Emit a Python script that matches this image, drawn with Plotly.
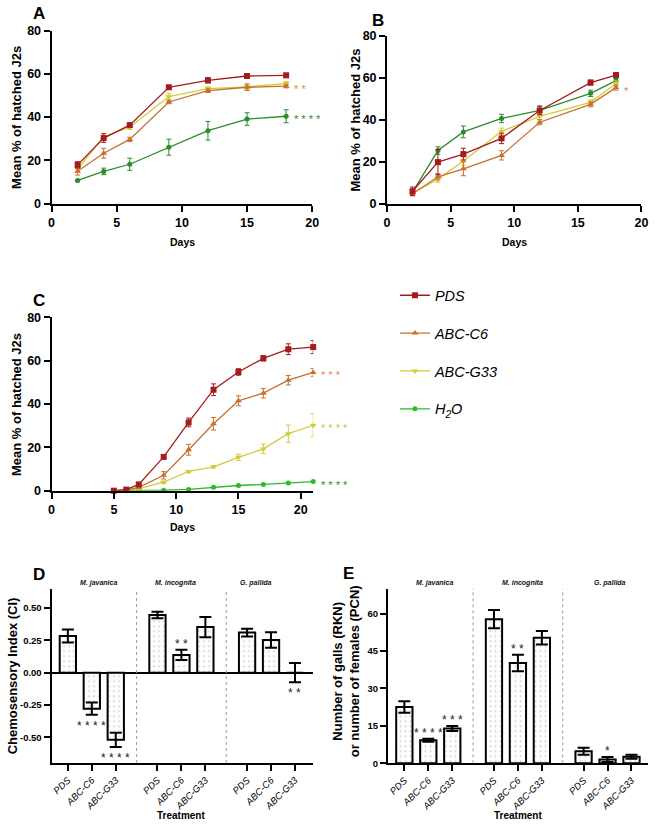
import plotly.graph_objects as go

W, H = 657, 829
FONT = "Liberation Sans, Arial, Helvetica, sans-serif"

# ---------------- data ----------------
series_names = ["PDS", "ABC-C6", "ABC-G33", "H<sub>2</sub>O"]

days_A = [2, 4, 6, 9, 12, 15, 18]
A_PDS = [17.9, 30.3, 36.3, 53.8, 57.0, 59.0, 59.3]
A_PDS_err = [1.5, 2.0, 1.0, 0.7, 1.2, 1.0, 1.0]
A_C6 = [15.0, 23.3, 29.7, 47.0, 52.2, 53.8, 54.3]
A_C6_err = [1.8, 2.3, 1.0, 0.8, 0.8, 1.5, 0.8]
A_G33 = [16.0, 31.0, 35.3, 49.5, 53.2, 54.0, 55.5]
A_G33_err = [1.5, 1.5, 1.0, 1.5, 0.8, 1.3, 1.0]
A_H2O = [10.7, 14.9, 18.2, 26.1, 33.7, 39.1, 40.4]
A_H2O_err = [0.5, 1.5, 2.8, 3.7, 4.3, 2.9, 3.0]
A_sig = ["", "**", "", "****"]

days_B = [2, 4, 6, 9, 12, 16, 18]
B_PDS = [5.9, 19.8, 23.6, 31.1, 44.4, 57.7, 61.3]
B_PDS_err = [2.0, 6.0, 2.8, 2.5, 2.0, 1.2, 0.7]
B_C6 = [4.7, 12.8, 16.6, 23.0, 38.8, 47.3, 55.3]
B_C6_err = [1.0, 1.5, 3.3, 2.2, 1.2, 1.2, 1.2]
B_G33 = [5.0, 11.7, 20.3, 34.5, 41.6, 48.3, 57.3]
B_G33_err = [1.0, 1.5, 2.0, 1.5, 1.5, 1.2, 1.2]
B_H2O = [5.5, 25.3, 34.2, 40.6, 44.5, 52.6, 58.6]
B_H2O_err = [1.0, 1.8, 2.8, 2.0, 2.0, 1.5, 1.0]
B_sig = ["", "*", "", ""]

days_C = [5, 6, 7, 9, 11, 13, 15, 17, 19, 21]
C_PDS = [0.0, 0.5, 2.9, 15.6, 31.5, 46.6, 54.8, 61.1, 65.3, 66.3]
C_PDS_err = [0.0, 0.3, 0.5, 1.0, 2.0, 2.7, 1.5, 1.2, 2.5, 3.0]
C_C6 = [0.0, 0.3, 1.5, 7.1, 18.9, 30.9, 41.5, 45.0, 51.0, 54.6]
C_C6_err = [0.0, 0.2, 0.5, 1.7, 2.5, 2.9, 2.3, 2.2, 2.2, 1.8]
C_G33 = [0.0, 0.2, 1.0, 3.9, 8.9, 11.0, 15.4, 19.3, 26.3, 30.2]
C_G33_err = [0.0, 0.1, 0.3, 0.5, 0.5, 0.5, 1.5, 2.2, 4.0, 5.3]
C_H2O = [0.0, 0.0, 0.0, 0.2, 0.6, 1.6, 2.4, 2.9, 3.6, 4.2]
C_H2O_err = [0.0, 0.0, 0.0, 0.1, 0.1, 0.2, 0.2, 0.2, 0.2, 0.2]
C_sig = ["", "***", "****", "****"]

species = ["M. javanica", "M. incognita", "G. pallida"]
treatments = ["PDS", "ABC-C6", "ABC-G33"]

ci_mean = [0.284, -0.279, -0.520, 0.447, 0.137, 0.353, 0.310, 0.253, 0.000]
ci_err = [0.050, 0.048, 0.055, 0.025, 0.040, 0.078, 0.030, 0.060, 0.075]
ci_sig = ["", "****", "****", "", "**", "", "", "", "**"]
ci_ticks = [-0.5, -0.25, 0.0, 0.25, 0.5]

galls_mean = [22.6, 9.2, 14.0, 57.8, 40.2, 50.3, 4.8, 1.5, 2.6]
galls_err = [2.3, 0.6, 1.0, 3.7, 3.3, 2.7, 1.4, 1.0, 0.8]
galls_sig = ["", "****", "***", "", "**", "", "", "*", ""]
galls_ticks = [0, 15, 30, 45, 60]

# ---------------- styles ----------------
col_line = {"PDS": "#A51C1E", "ABC-C6": "#C8702E", "ABC-G33": "#D2CC3A"}
green_dark = "#2A8C2A"
green_bright = "#2DBA2D"
symbols = ["square", "triangle-up", "triangle-down", "circle"]
msize = [6, 6, 6, 5]
sig_cols_A = ["#A51C1E", "#D98A4A", "#C8C850", green_dark]
sig_cols_C = ["#A51C1E", "#F0824A", "#C8C850", green_dark]


def px_x(p):
    return p / W


def px_y(p):
    return 1 - p / H


fig = go.Figure()

panels = [
    ("x", "y", days_A, [A_PDS, A_C6, A_G33, A_H2O], [A_PDS_err, A_C6_err, A_G33_err, A_H2O_err], green_dark, A_sig, sig_cols_A, False),
    ("x2", "y2", days_B, [B_PDS, B_C6, B_G33, B_H2O], [B_PDS_err, B_C6_err, B_G33_err, B_H2O_err], green_dark, B_sig, sig_cols_A, False),
    ("x3", "y3", days_C, [C_PDS, C_C6, C_G33, C_H2O], [C_PDS_err, C_C6_err, C_G33_err, C_H2O_err], green_bright, C_sig, sig_cols_C, True),
]

annotations = []
for xa, ya, days, vals, errs, gcol, sigs, sigcols, legend in panels:
    cols = [col_line["PDS"], col_line["ABC-C6"], col_line["ABC-G33"], gcol]
    order = [3, 2, 1, 0]
    for k in order:
        fig.add_trace(go.Scatter(
            x=days, y=vals[k], xaxis=xa, yaxis=ya, mode="lines+markers",
            name=series_names[k], legendgroup=series_names[k], legendrank=k,
            showlegend=legend, cliponaxis=False,
            line=dict(color=cols[k], width=1.3),
            marker=dict(symbol=symbols[k], size=msize[k], color=cols[k]),
            error_y=dict(type="data", array=errs[k], color=cols[k], thickness=1, width=2.5),
        ))
    for k in range(4):
        if sigs[k]:
            annotations.append(dict(
                x=days[-1], y=vals[k][-1], xref=xa, yref=ya, text=" ".join(sigs[k]),
                showarrow=False, xanchor="left", yanchor="middle", xshift=6, yshift=-3,
                font=dict(family=FONT, size=11, color=sigcols[k]),
            ))

# bar positions (3 groups of 3)
bar_pos = [g * 3.74 + i + 0.68 for g in range(3) for i in range(3)]
bar_ticktext = treatments * 3
bar_marker = dict(
    color="white", line=dict(color="black", width=2),
    pattern=dict(shape=".", fgcolor="#9a9a9a", bgcolor="white", size=5, solidity=0.12),
)
fig.add_trace(go.Bar(
    x=bar_pos, y=ci_mean, xaxis="x4", yaxis="y4", width=0.68, marker=bar_marker,
    showlegend=False, cliponaxis=False,
    error_y=dict(type="data", array=ci_err, color="black", thickness=2, width=6),
))
fig.add_trace(go.Bar(
    x=bar_pos, y=galls_mean, xaxis="x5", yaxis="y5", width=0.68, marker=bar_marker,
    showlegend=False, cliponaxis=False,
    error_y=dict(type="data", array=galls_err, color="black", thickness=2, width=6),
))

for xa, ya, means, errs, sigs in [("x4", "y4", ci_mean, ci_err, ci_sig), ("x5", "y5", galls_mean, galls_err, galls_sig)]:
    for i, s in enumerate(sigs):
        if not s:
            continue
        if means[i] > 0:
            annotations.append(dict(x=bar_pos[i], y=means[i] + errs[i], xref=xa, yref=ya,
                                    text=" ".join(s), showarrow=False, yanchor="bottom", yshift=-3,
                                    font=dict(family=FONT, size=12, color="#222")))
        else:
            annotations.append(dict(x=bar_pos[i], y=means[i] - errs[i], xref=xa, yref=ya,
                                    text=" ".join(s), showarrow=False, yanchor="top", yshift=-2,
                                    font=dict(family=FONT, size=12, color="#222")))

# group dividers
shapes = []
dividers = [(bar_pos[2] + bar_pos[3]) / 2, (bar_pos[5] + bar_pos[6]) / 2]
for xa, ya in [("x4", "y4"), ("x5", "y5")]:
    for d in dividers:
        shapes.append(dict(type="line", xref=xa, yref=ya + " domain", x0=d, x1=d, y0=0, y1=1,
                           line=dict(color="#9a9a9a", width=1, dash="dot")))

# species labels
lab_pos_D = [1.96, 5.17, 8.54]
lab_pos_E = [1.93, 5.63, 9.25]
for xa, poss in [("x4", lab_pos_D), ("x5", lab_pos_E)]:
    for sp, p in zip(species, poss):
        annotations.append(dict(x=p, y=px_y(592), xref=xa, yref="paper", text=sp, showarrow=False,
                                font=dict(family=FONT, size=7, color="#111", weight="bold", style="italic")))

# axis titles
def title(text, x, y, size, angle=0):
    annotations.append(dict(x=px_x(x), y=px_y(y), xref="paper", yref="paper", text=text,
                            showarrow=False, textangle=angle, xanchor="center", yanchor="middle",
                            font=dict(family=FONT, size=size, color="black", weight="bold")))

title("Mean % of hatched J2s", 13, 112, 13, -90)
title("Mean % of hatched J2s", 358, 115, 13, -90)
title("Mean % of hatched J2s", 13, 404, 13, -90)
title("Days", 182, 239, 10.5)
title("Days", 519, 239, 10.5)
title("Days", 182, 529, 10.5)
title("Chemosensory Index (CI)", 10, 680, 13, -90)
title("Number of galls (RKN)<br>or number of females (PCN)", 348, 676, 13, -90)
title("Treatment", 181, 822, 10)
title("Treatment", 523, 822, 10)
for letter, x, y in [("A", 37, 7), ("B", 381, 14), ("C", 37, 299), ("D", 37, 577), ("E", 351, 576)]:
    title(letter, x, y, 17)

axis_common = dict(showline=True, linecolor="black", linewidth=2, ticks="outside", ticklen=6,
                   tickwidth=2, tickcolor="black", showgrid=False, zeroline=False)
tick_big = dict(family=FONT, size=12.5, color="black", weight="bold")
tick_small = dict(family=FONT, size=9.5, color="black", weight="bold")
tick_it = dict(family=FONT, size=9.5, color="black", style="italic")

fig.update_layout(
    width=W, height=H, margin=dict(l=0, r=0, t=0, b=0),
    paper_bgcolor="white", plot_bgcolor="white", barmode="overlay",
    font=dict(family=FONT),
    xaxis=dict(domain=[px_x(49.3), px_x(314)], range=[0, 20], dtick=5, anchor="y", tickfont=tick_big, **axis_common),
    yaxis=dict(domain=[px_y(200), px_y(24)], range=[0, 80], dtick=20, anchor="x", tickfont=tick_big, **axis_common),
    xaxis2=dict(domain=[px_x(390), px_x(648.3)], range=[0, 20], dtick=5, anchor="y2", tickfont=tick_big,
                ticklabeloverflow="allow", **axis_common),
    yaxis2=dict(domain=[px_y(200), px_y(29.3)], range=[0, 80], dtick=20, anchor="x2", tickfont=tick_big, **axis_common),
    xaxis3=dict(domain=[px_x(49.3), px_x(315)], range=[0, 21], dtick=5, anchor="y3", tickfont=tick_big, **axis_common),
    yaxis3=dict(domain=[px_y(492), px_y(315.7)], range=[0, 80], dtick=20, anchor="x3", tickfont=tick_big, **axis_common),
    xaxis4=dict(domain=[px_x(49.3), px_x(315)], range=[0, 10.92], anchor="y4", tickvals=bar_pos,
                ticktext=bar_ticktext, tickangle=-45, tickfont=tick_it, **axis_common),
    yaxis4=dict(domain=[px_y(769), px_y(591.7)], range=[-0.7, 0.65], anchor="x4", tickvals=ci_ticks,
                ticktext=[f"{v:.2f}" for v in ci_ticks], tickfont=tick_small,
                **{**axis_common, "zeroline": True}, zerolinecolor="black", zerolinewidth=2),
    xaxis5=dict(domain=[px_x(391), px_x(655)], range=[0, 10.85], anchor="y5", tickvals=bar_pos,
                ticktext=bar_ticktext, tickangle=-45, tickfont=tick_it, **axis_common),
    yaxis5=dict(domain=[px_y(769.3), px_y(591.7)], range=[0, 70], anchor="x5", tickvals=galls_ticks,
                tickfont=tick_small, **axis_common),
    legend=dict(x=px_x(398), y=px_y(277), xanchor="left", yanchor="top", traceorder="grouped",
                tracegroupgap=16, bgcolor="rgba(0,0,0,0)",
                font=dict(family=FONT, size=14.5, color="black", style="italic")),
    annotations=annotations, shapes=shapes,
)

fig.write_html("out.html", config={"displayModeBar": False},
               post_script="document.body.style.margin='0';document.body.style.overflow='hidden';")
